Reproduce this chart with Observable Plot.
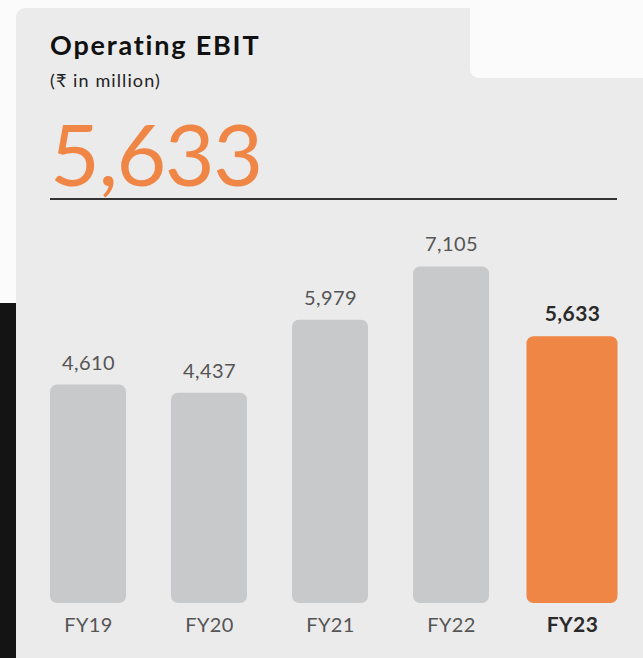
<!DOCTYPE html>
<html>
<head>
<meta charset="utf-8">
<script src="https://cdn.jsdelivr.net/npm/d3@7"></script>
<script src="https://cdn.jsdelivr.net/npm/@observablehq/plot@0.6"></script>
<style>
  html, body { margin: 0; padding: 0; }
  body { width: 643px; height: 658px; position: relative; overflow: hidden; background: #fbfbfb; font-family: Lato, "Open Sans", sans-serif; }
  #panel { position: absolute; left: 16px; top: 8px; right: 0; bottom: 0; background: #ebebeb; border-top-left-radius: 9px; }
  #notch { position: absolute; left: 470px; top: 0; width: 173px; height: 78px; background: #fbfbfb; border-bottom-left-radius: 9px; }
  #strip { position: absolute; left: 0; top: 303px; width: 16px; bottom: 0; background: #141414; }
  #title { position: absolute; left: 50px; top: 28px; font-size: 27px; font-weight: 700; color: #111; letter-spacing: 1.8px; }
  #subtitle { position: absolute; left: 50px; top: 69px; font-size: 18px; color: #222; letter-spacing: 1.1px; }
  #big { position: absolute; left: 50px; top: 103px; font-size: 86px; line-height: 100px; color: #f08646; font-weight: 400; letter-spacing: -1.5px; }
  #rule { position: absolute; left: 50px; top: 198px; width: 567px; height: 1.5px; background: #333; }
  #chart { position: absolute; left: 0; top: 210px; }
</style>
</head>
<body>
<div id="panel"></div>
<div id="notch"></div>
<div id="strip"></div>
<div id="title">Operating EBIT</div>
<div id="subtitle">(₹ in million)</div>
<div id="big">5,633</div>
<div id="rule"></div>
<div id="chart"></div>
<script>
const years = ["FY19", "FY20", "FY21", "FY22", "FY23"];
const values = [4610, 4437, 5979, 7105, 5633];
const highlightYear = "FY23";

const data = years.map((year, i) => ({year, value: values[i], hi: year === highlightYear}));
const rest = data.filter(d => !d.hi);
const hi = data.filter(d => d.hi);
const fmt = d3.format(",");

const chart = Plot.plot({
  width: 643,
  height: 448,
  marginTop: 14,
  marginBottom: 55,
  marginLeft: 50,
  marginRight: 33,
  style: {background: "transparent", fontFamily: "Lato, 'Open Sans', sans-serif", letterSpacing: "0.4px"},
  x: {domain: years, paddingInner: 0.372, paddingOuter: 0, axis: null},
  y: {domain: [0, 8000], axis: null},
  marks: [
    Plot.barY(rest, {x: "year", y: "value", fill: "#c8c9cb", rx: 7}),
    Plot.barY(hi, {x: "year", y: "value", fill: "#f08646", rx: 7, insetLeft: -7.5, insetRight: -7.5}),
    Plot.text(rest, {x: "year", y: "value", text: d => fmt(d.value), dy: -22, lineAnchor: "middle", fontSize: 20, fill: "#555"}),
    Plot.text(hi, {x: "year", y: "value", text: d => fmt(d.value), dy: -22, lineAnchor: "middle", fontSize: 21, fontWeight: 700, fill: "#2a2a2a"}),
    Plot.text(rest, {x: "year", frameAnchor: "bottom", text: "year", dy: 22, lineAnchor: "middle", fontSize: 20, fill: "#555"}),
    Plot.text(hi, {x: "year", frameAnchor: "bottom", text: "year", dy: 22, lineAnchor: "middle", fontSize: 21, fontWeight: 700, fill: "#2a2a2a"})
  ]
});
document.getElementById("chart").appendChild(chart);
</script>
</body>
</html>
